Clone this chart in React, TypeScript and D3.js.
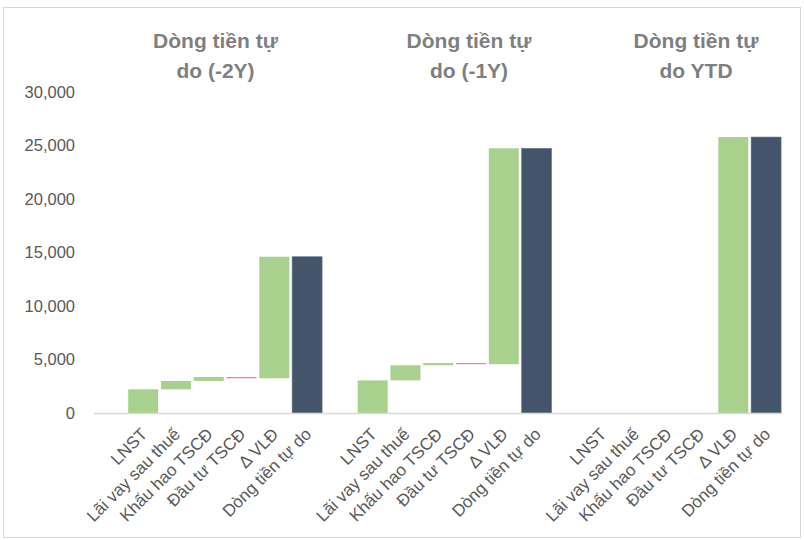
import React from "react";
import * as d3 from "d3";

const groupTitles = [
  ["Dòng tiền tự", "do (-2Y)"],
  ["Dòng tiền tự", "do (-1Y)"],
  ["Dòng tiền tự", "do YTD"],
];
const stepLabels = ["LNST", "Lãi vay sau thuế", "Khấu hao TSCĐ", "Đầu tư TSCĐ", "Δ VLĐ"];
const totalLabel = "Dòng tiền tự do";
const values2Y = [2215, 780, 370, -120, 11360];
const values1Y = [3050, 1410, 210, -110, 20180];
const valuesYTD = [0, 0, 0, 0, 25790];
const yTicks = [0, 5000, 10000, 15000, 20000, 25000, 30000];

const W = 804;
const H = 540;
const plotLeft = 94;
const plotRight = 782.5;
const plotTop = 92;
const plotBottom = 413;

const GREEN = "#a9d18e";
const RED = "#ff7c80";
const DARK = "#44546a";
const FONT = "'Liberation Sans Narrow', 'Arial Narrow', 'Liberation Sans', Arial, sans-serif";

type Bar = { key: string; label: string; y0: number; y1: number; color: string; group: number };

function buildBars(): { keys: string[]; bars: Bar[] } {
  const keys: string[] = [];
  const bars: Bar[] = [];
  const groups = [values2Y, values1Y, valuesYTD];
  groups.forEach((vals, g) => {
    keys.push(`blank${g}`);
    let cum = 0;
    vals.forEach((v, i) => {
      const key = `g${g}-${i}`;
      keys.push(key);
      const start = cum;
      cum += v;
      bars.push({
        key,
        label: stepLabels[i],
        y0: Math.min(start, cum),
        y1: Math.max(start, cum),
        color: v >= 0 ? GREEN : RED,
        group: g,
      });
    });
    const tk = `g${g}-total`;
    keys.push(tk);
    bars.push({ key: tk, label: totalLabel, y0: 0, y1: cum, color: DARK, group: g });
  });
  return { keys, bars };
}

export default function App() {
  const { keys, bars } = buildBars();
  const x = d3.scaleBand<string>().domain(keys).range([plotLeft, plotRight]).paddingInner(0.085).paddingOuter(0.0425);
  const y = d3.scaleLinear().domain([0, 30000]).range([plotBottom, plotTop]);
  const fmt = d3.format(",");
  const titleX = [215.5, 469, 696];

  return (
    <svg width={W} height={H} style={{ position: "absolute", left: 0, top: 0, background: "#fff" }}>
      <rect x={3.5} y={7.5} width={797} height={530} fill="#fff" stroke="#d9d9d9" strokeWidth={1} />
      {yTicks.map((t) => (
        <text key={t} x={75} y={y(t)} dy="0.35em" textAnchor="end" fontSize={16.5} fill="#595959" fontFamily={FONT}>
          {fmt(t)}
        </text>
      ))}
      {bars.map((b) => {
        const h = y(b.y0) - y(b.y1);
        if (h <= 0) return null;
        return (
          <rect
            key={b.key}
            x={x(b.key)}
            y={y(b.y1)}
            width={x.bandwidth()}
            height={h}
            fill={b.color}
            stroke={b.color === DARK ? "#6b7a8f" : "none"}
            strokeWidth={b.color === DARK ? 0.6 : 0}
          />
        );
      })}
      <line x1={plotLeft} x2={plotRight} y1={plotBottom + 0.5} y2={plotBottom + 0.5} stroke="#d9d9d9" strokeWidth={1.3} />
      {bars.map((b) => {
        const cx = (x(b.key) as number) + x.bandwidth() / 2;
        return (
          <text
            key={"l" + b.key}
            transform={`translate(${cx + 1},${plotBottom + 18}) rotate(-45)`}
            textAnchor="end"
            dy="0.35em"
            fontSize={17}
            fill="#595959"
            fontFamily={FONT}
          >
            {b.label}
          </text>
        );
      })}
      {groupTitles.map((t, i) => (
        <text key={i} x={titleX[i]} textAnchor="middle" fontSize={21} fontWeight="bold" fill="#7f7f7f" fontFamily={FONT}>
          <tspan x={titleX[i]} y={48}>{t[0]}</tspan>
          <tspan x={titleX[i]} y={78}>{t[1]}</tspan>
        </text>
      ))}
    </svg>
  );
}
